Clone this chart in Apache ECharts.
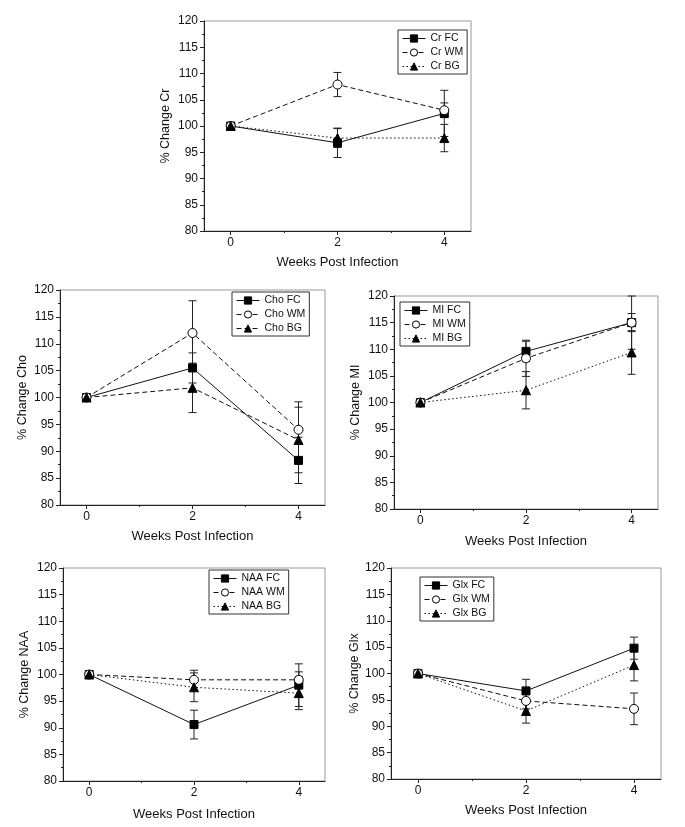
<!DOCTYPE html>
<html>
<head>
<meta charset="utf-8">
<script src="https://cdn.jsdelivr.net/npm/echarts@6/dist/echarts.min.js"></script>
<style>
  html, body { margin: 0; padding: 0; background: #fff; }
  #chart { width: 685px; height: 827px; }
</style>
</head>
<body>
<div id="chart"></div>
<script>
// weeks post infection
var weeks = [0, 2, 4];

// Cr
var crFC = [100, 96.8, 102.4];
var crFCErr = [0.3, 2.8, 4.4];
var crWM = [100, 107.9, 103.0];
var crWMErr = [0.3, 2.3, 1.4];
var crBG = [100, 97.7, 97.7];
var crBGErr = [0.3, 1.8, 2.6];

// Cho
var choFC = [100, 105.5, 88.3];
var choFCErr = [0.3, 2.8, 4.3];
var choWM = [100, 112.0, 94.0];
var choWMErr = [0.3, 6.0, 5.2];
var choBG = [100, 101.8, 92.1];
var choBGErr = [0.3, 4.6, 6.1];

// MI
var miFC = [100, 109.6, 115.0];
var miFCErr = [0.3, 1.9, 1.7];
var miWM = [100, 108.3, 115.0];
var miWMErr = [0.3, 3.4, 5.0];
var miBG = [100, 102.3, 109.4];
var miBGErr = [0.3, 3.5, 4.1];

// NAA
var naaFC = [100, 90.6, 98.0];
var naaFCErr = [0.3, 2.7, 4.0];
var naaWM = [100, 99.0, 99.0];
var naaWMErr = [0.3, 1.8, 1.5];
var naaBG = [100, 97.6, 96.5];
var naaBGErr = [0.3, 2.7, 3.1];

// Glx
var glxFC = [100, 96.7, 104.8];
var glxFCErr = [0.3, 2.2, 2.1];
var glxWM = [100, 94.8, 93.3];
var glxWMErr = [0.3, 1.5, 3.0];
var glxBG = [100, 92.9, 101.6];
var glxBGErr = [0.3, 2.3, 3.0];

var FONT = 'Liberation Sans';

// panel layouts: grid box + legend place + axis-title gaps
var panels = [
    {name: 'Cr', grid: {left: 204, top: 21, width: 267, height: 210}, legend: {left: 398, top: 30}, xGap: 25, yGap: 32,
     fc: crFC, fcErr: crFCErr, wm: crWM, wmErr: crWMErr, bg: crBG, bgErr: crBGErr, bgDash: 'dotted'},
    {name: 'Cho', grid: {left: 60, top: 290, width: 265, height: 215}, legend: {left: 232, top: 292}, xGap: 25, yGap: 31,
     fc: choFC, fcErr: choFCErr, wm: choWM, wmErr: choWMErr, bg: choBG, bgErr: choBGErr, bgDash: 'dashed'},
    {name: 'MI', grid: {left: 394, top: 296, width: 264, height: 213}, legend: {left: 400, top: 302}, xGap: 26, yGap: 32,
     fc: miFC, fcErr: miFCErr, wm: miWM, wmErr: miWMErr, bg: miBG, bgErr: miBGErr, bgDash: 'dotted'},
    {name: 'NAA', grid: {left: 63, top: 568, width: 262, height: 213}, legend: {left: 209, top: 570}, xGap: 27, yGap: 32,
     fc: naaFC, fcErr: naaFCErr, wm: naaWM, wmErr: naaWMErr, bg: naaBG, bgErr: naaBGErr, bgDash: 'dotted'},
    {name: 'Glx', grid: {left: 391, top: 568, width: 270, height: 211}, legend: {left: 420, top: 577}, xGap: 25, yGap: 30,
     fc: glxFC, fcErr: glxFCErr, wm: glxWM, wmErr: glxWMErr, bg: glxBG, bgErr: glxBGErr, bgDash: 'dotted'}
];

/**
 * 把数值数组和横坐标组合成点
 */
function toPoints(values) {
    return weeks.map(function(w, i) {
        return [w, values[i]];
    });
}

/**
 * 误差线数据 [x, low, high]
 */
function toErrors(values, errs) {
    return weeks.map(function(w, i) {
        return [w, values[i] - errs[i], values[i] + errs[i]];
    });
}

function renderErrorBar(params, api) {
    var x = api.value(0);
    var low = api.coord([x, api.value(1)]);
    var high = api.coord([x, api.value(2)]);
    var half = 4;
    var style = {stroke: '#222', lineWidth: 1};
    return {
        type: 'group',
        children: [
            {type: 'line', shape: {x1: low[0], y1: low[1], x2: high[0], y2: high[1]}, style: style},
            {type: 'line', shape: {x1: low[0] - half, y1: low[1], x2: low[0] + half, y2: low[1]}, style: style},
            {type: 'line', shape: {x1: high[0] - half, y1: high[1], x2: high[0] + half, y2: high[1]}, style: style}
        ]
    };
}

var grids = [];
var xAxes = [];
var yAxes = [];
var legends = [];
var series = [];

panels.forEach(function(p, i) {
    var xi = i * 2;
    grids.push({
        left: p.grid.left, top: p.grid.top, width: p.grid.width, height: p.grid.height,
        show: true, borderColor: '#999', borderWidth: 1, backgroundColor: 'transparent'
    });
    // main x axis
    xAxes.push({
        type: 'value', gridIndex: i, min: -0.5, max: 4.5,
        name: 'Weeks Post Infection', nameLocation: 'middle', nameGap: p.xGap,
        nameTextStyle: {fontFamily: FONT, fontSize: 13, color: '#111'},
        axisLine: {onZero: false, lineStyle: {color: '#222', width: 1}},
        axisTick: {show: true, length: 4, customValues: weeks, lineStyle: {color: '#222'}},
        axisLabel: {customValues: weeks, margin: 6, fontFamily: FONT, fontSize: 12, color: '#111'},
        splitLine: {show: false}
    });
    // minor x ticks at 1 and 3 (extra axis, no labels)
    xAxes.push({
        type: 'value', gridIndex: i, min: -0.5, max: 4.5, position: 'bottom',
        axisLine: {show: false, onZero: false},
        axisTick: {show: true, length: 2, customValues: [1, 3], lineStyle: {color: '#222'}},
        axisLabel: {show: false, customValues: [1, 3]},
        splitLine: {show: false}
    });
    yAxes.push({
        type: 'value', gridIndex: i, min: 80, max: 120, interval: 5,
        name: '% Change ' + p.name, nameLocation: 'middle', nameGap: p.yGap,
        nameTextStyle: {fontFamily: FONT, fontSize: 12.5, color: '#111'},
        axisLine: {show: true, onZero: false, lineStyle: {color: '#222', width: 1}},
        axisTick: {show: true, length: 4, lineStyle: {color: '#222'}},
        minorTick: {show: true, splitNumber: 2, length: 2, lineStyle: {color: '#222'}},
        axisLabel: {margin: 6, fontFamily: FONT, fontSize: 12, color: '#111'},
        splitLine: {show: false}
    });

    var names = [p.name + ' FC', p.name + ' WM', p.name + ' BG'];
    legends.push({
        orient: 'vertical', left: p.legend.left, top: p.legend.top,
        data: names,
        itemWidth: 23, itemHeight: 9, itemGap: 3,
        padding: [3, 4, 2, 4],
        borderColor: '#333', borderWidth: 1, backgroundColor: '#fff',
        lineStyle: {width: 1},
        itemStyle: {borderWidth: 1},
        textStyle: {fontFamily: FONT, fontSize: 10.5, color: '#111'}
    });

    var defs = [
        {name: names[0], v: p.fc, e: p.fcErr, sym: 'rect', size: 8, dash: 'solid', fill: '#000'},
        {name: names[1], v: p.wm, e: p.wmErr, sym: 'circle', size: 9, dash: [5, 3], fill: '#fff'},
        {name: names[2], v: p.bg, e: p.bgErr, sym: 'triangle', size: 9,
         dash: p.bgDash === 'dotted' ? [1.5, 2.5] : [5, 3], fill: '#000'}
    ];
    defs.forEach(function(d) {
        series.push({
            type: 'custom', xAxisIndex: xi, yAxisIndex: i,
            renderItem: renderErrorBar, data: toErrors(d.v, d.e),
            silent: true, z: 1, encode: {x: 0, y: [1, 2]}
        });
    });
    defs.forEach(function(d) {
        series.push({
            type: 'line', name: d.name, xAxisIndex: xi, yAxisIndex: i,
            data: toPoints(d.v),
            symbol: d.sym, symbolSize: d.size, showAllSymbol: true,
            lineStyle: {color: '#111', width: 1, type: d.dash},
            itemStyle: {color: d.fill, borderColor: '#000', borderWidth: 1},
            z: 3, animation: false
        });
    });
});

var myChart = echarts.init(document.getElementById('chart'), null, {renderer: 'canvas'});
myChart.setOption({
    backgroundColor: '#fff',
    animation: false,
    grid: grids,
    xAxis: xAxes,
    yAxis: yAxes,
    legend: legends,
    series: series
});
</script>
</body>
</html>
